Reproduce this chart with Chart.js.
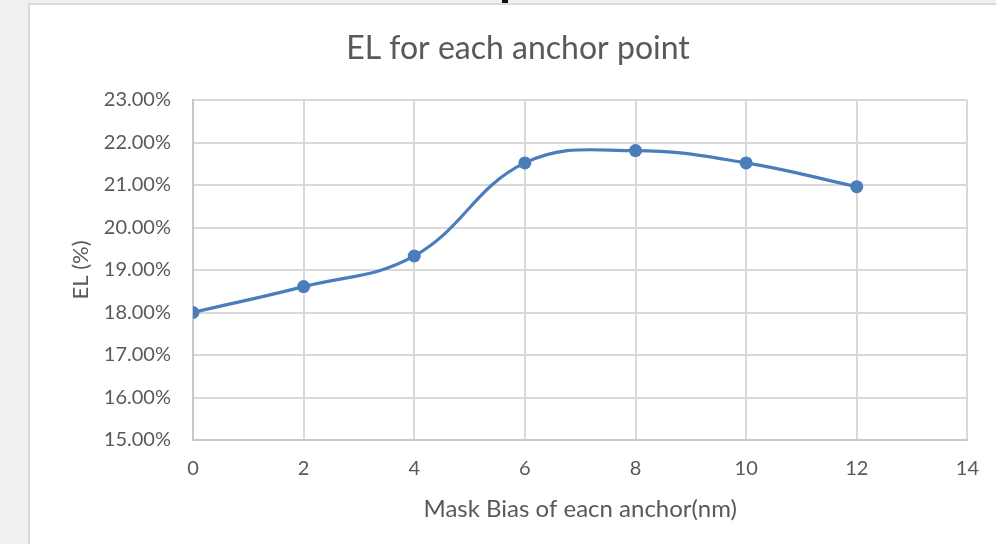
<!DOCTYPE html>
<html>
<head>
<meta charset="utf-8">
<script src="https://cdn.jsdelivr.net/npm/chart.js@4/dist/chart.umd.min.js"></script>
<style>
  html, body { margin: 0; padding: 0; background: #f0f0f0; }
  #wrap { width: 996px; height: 544px; position: relative; }
  canvas { display: block; }
</style>
</head>
<body>
<div id="wrap"><canvas id="c" width="996" height="544"></canvas></div>
<script>
// Mask bias of each anchor (nm) and the measured EL (%)
const maskBias = [0, 2, 4, 6, 8, 10, 12];
const elPercent = [18.00, 18.61, 19.33, 21.52, 21.81, 21.52, 20.96];

// Axis ranges and tick steps
const xTicks = { min: 0, max: 14, step: 2 };
const yTicks = { min: 15, max: 23, step: 1 };

const titleText = 'EL for each anchor point';
const xTitle = 'Mask Bias of eacn anchor(nm)';
const yTitle = 'EL (%)';

const textColor = '#595959';
const lineColor = '#4a7ebb';
const gridColor = '#d9d9d9';
const FONT = 'Lato, "Open Sans", sans-serif';

// Panel background: grey surround, white chart sheet with a light border
const sheet = {
  id: 'sheet',
  beforeDraw(chart) {
    const ctx = chart.ctx;
    ctx.save();
    ctx.fillStyle = '#f0f0f0';
    ctx.fillRect(0, 0, chart.width, chart.height);
    ctx.fillStyle = '#dadada';
    ctx.fillRect(28, 3, chart.width - 28, chart.height - 3);
    ctx.fillStyle = '#ffffff';
    ctx.fillRect(30, 5, chart.width - 30, chart.height - 5);
    ctx.fillStyle = '#111111';
    ctx.fillRect(502, 0, 6, 3);
    ctx.restore();
  }
};

new Chart(document.getElementById('c'), {
  type: 'line',
  data: {
    datasets: [{
      data: maskBias.map((x, i) => ({ x, y: elPercent[i] })),
      borderColor: lineColor,
      backgroundColor: lineColor,
      borderWidth: 3.2,
      pointRadius: 6.5,
      pointHoverRadius: 6.5,
      pointBorderWidth: 0,
      tension: 0.4,
      cubicInterpolationMode: 'default',
      fill: false
    }]
  },
  options: {
    responsive: false,
    animation: false,
    events: [],
    layout: { padding: { left: 40, right: 0, top: 5, bottom: 0 } },
    plugins: {
      legend: { display: false },
      tooltip: { enabled: false },
      title: {
        display: true,
        text: titleText,
        color: textColor,
        font: { family: FONT, size: 32, weight: 'normal' },
        padding: { top: 24, bottom: 32.6 }
      }
    },
    scales: {
      x: {
        type: 'linear',
        min: xTicks.min,
        max: xTicks.max,
        afterFit(s) { s.height = 104; },
        ticks: {
          stepSize: xTicks.step,
          color: textColor,
          font: { family: FONT, size: 20 },
          padding: 17,
          maxRotation: 0
        },
        grid: { color: gridColor, lineWidth: 2, drawTicks: false },
        border: { color: '#c8c8c8', width: 2 },
        title: {
          display: true,
          text: xTitle,
          color: textColor,
          font: { family: FONT, size: 24 },
          padding: { top: 0, bottom: 20 }
        }
      },
      y: {
        type: 'linear',
        min: yTicks.min,
        max: yTicks.max,
        afterFit(s) { s.width = 153; },
        ticks: {
          stepSize: yTicks.step,
          color: textColor,
          font: { family: FONT, size: 20 },
          padding: 22,
          callback: v => v.toFixed(2) + '%'
        },
        grid: { color: gridColor, lineWidth: 2, drawTicks: false },
        border: { color: '#c8c8c8', width: 2 },
        title: {
          display: true,
          text: yTitle,
          color: textColor,
          font: { family: FONT, size: 22 },
          padding: { top: 28, bottom: 0 }
        }
      }
    }
  },
  plugins: [sheet]
});
</script>
</body>
</html>
